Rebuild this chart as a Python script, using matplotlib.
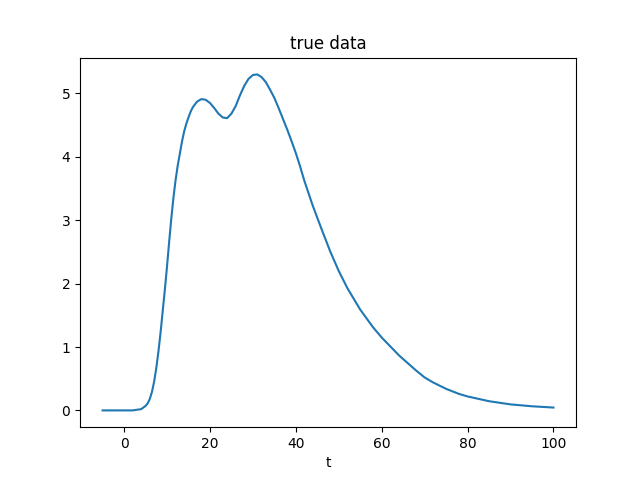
import matplotlib
matplotlib.use("Agg")
import matplotlib.pyplot as plt

# values
t = [-5, 0, 2, 4, 5, 5.5, 6, 6.5, 7, 7.5, 8, 8.5, 9, 9.5, 10, 10.5, 11, 11.5,
     12, 12.5, 13, 13.5, 14, 14.5, 15, 15.5, 16, 17, 18, 19, 20,
     21, 22, 23, 24, 25, 26, 27, 28, 29, 30, 31, 32, 33, 34, 35, 36, 37, 38,
     39, 40, 41, 42, 43, 44, 46, 48, 50, 52, 55, 58, 60, 62, 64, 66, 68, 70,
     72, 75, 78, 80, 82, 85, 90, 95, 100]
y = [0.0, 0.0, 0.0, 0.02, 0.07, 0.11, 0.18, 0.29, 0.45, 0.66, 0.92, 1.22,
     1.56, 1.90, 2.26, 2.65, 3.02, 3.35, 3.63, 3.86, 4.05, 4.24,
     4.40, 4.52, 4.62, 4.71, 4.78, 4.87, 4.91, 4.90, 4.85, 4.77, 4.68, 4.62,
     4.61, 4.68, 4.80, 4.97, 5.12, 5.23, 5.29, 5.30, 5.26, 5.18, 5.06, 4.93,
     4.77, 4.60, 4.43, 4.25, 4.06, 3.85, 3.62, 3.42, 3.22, 2.86, 2.51, 2.20,
     1.93, 1.59, 1.31, 1.15, 1.01, 0.87, 0.75, 0.63, 0.52, 0.44, 0.34, 0.26,
     0.22, 0.19, 0.145, 0.095, 0.065, 0.045]

fig, ax = plt.subplots(figsize=(6.4, 4.8), dpi=100)
ax.plot(t, y)
ax.set_title("true data")
ax.set_xlabel("t")
fig.savefig("out.png")
